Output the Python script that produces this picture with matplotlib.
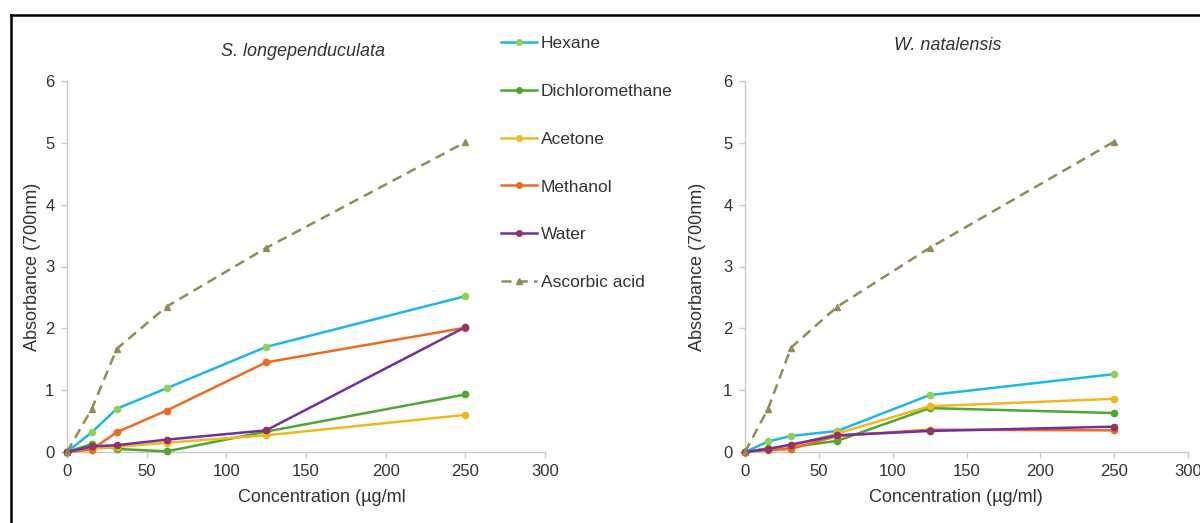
import matplotlib
matplotlib.use("Agg")
import matplotlib.pyplot as plt
from matplotlib.lines import Line2D

plt.rcParams['font.family'] = ['Liberation Sans', 'DejaVu Sans']

conc = [0, 15.6, 31.25, 62.5, 125, 250]
series_names = ["Hexane", "Dichloromethane", "Acetone", "Methanol", "Water", "Ascorbic acid"]

sl_hexane = [0, 0.32, 0.70, 1.03, 1.70, 2.52]
sl_dcm = [0, 0.13, 0.05, 0.01, 0.33, 0.93]
sl_acetone = [0, 0.05, 0.08, 0.15, 0.27, 0.60]
sl_methanol = [0, 0.04, 0.32, 0.67, 1.45, 2.01]
sl_water = [0, 0.09, 0.11, 0.20, 0.35, 2.02]
sl_ascorbic = [0, 0.70, 1.67, 2.35, 3.30, 5.01]

wn_hexane = [0, 0.17, 0.26, 0.34, 0.92, 1.26]
wn_dcm = [0, 0.06, 0.08, 0.18, 0.71, 0.63]
wn_acetone = [0, 0.05, 0.10, 0.30, 0.74, 0.86]
wn_methanol = [0, 0.03, 0.05, 0.26, 0.36, 0.35]
wn_water = [0, 0.05, 0.12, 0.27, 0.34, 0.41]
wn_ascorbic = [0, 0.70, 1.69, 2.35, 3.30, 5.02]

x_ticks = [0, 50, 100, 150, 200, 250, 300]
y_ticks = [0, 1, 2, 3, 4, 5, 6]

line_colors = ["#1AB7EA", "#4EA72E", "#F1B81C", "#EE6A22", "#7030A0", "#948A54"]
marker_colors = ["#92D050", "#4EA72E", "#F1B81C", "#EE6A22", "#953264", "#948A54"]
markers = ["o", "o", "o", "o", "o", "^"]
styles = ["-", "-", "-", "-", "-", (0, (4, 2.5))]

fig = plt.figure(figsize=(12, 5.23), dpi=100)

# figure border (top and left)
fig.add_artist(Line2D([10.5/1200, 10.5/1200], [0, 1 - 14.5/523], transform=fig.transFigure,
                      color="black", lw=1.8, solid_capstyle="projecting"))
fig.add_artist(Line2D([10.5/1200, 1.0], [1 - 14.5/523, 1 - 14.5/523], transform=fig.transFigure,
                      color="black", lw=1.8, solid_capstyle="projecting"))

ax1 = fig.add_axes([67/1200, 1 - 452/523, 478/1200, 371/523])
ax2 = fig.add_axes([745/1200, 1 - 452/523, 443/1200, 371/523])

def draw(ax, data, xlabel, ylab_x, xlab_x):
    handles = []
    for i, ys in enumerate(data):
        h, = ax.plot(conc, ys, color=line_colors[i], ls=styles[i], lw=1.8,
                     marker=markers[i], ms=4.5, mfc=marker_colors[i], mec=marker_colors[i],
                     label=series_names[i], clip_on=False, zorder=3)
        handles.append(h)
    ax.set_xlim(0, 300)
    ax.set_ylim(0, 6)
    ax.set_xticks(x_ticks)
    ax.set_yticks(y_ticks)
    for s in ["top", "right"]:
        ax.spines[s].set_visible(False)
    for s in ["left", "bottom"]:
        ax.spines[s].set_color("#C8C8C8")
        ax.spines[s].set_linewidth(1.0)
    ax.tick_params(axis="both", colors="#C8C8C8", labelcolor="#333333", labelsize=12,
                   length=4, width=1.0)
    ax.tick_params(axis="x", pad=5)
    ax.tick_params(axis="y", pad=5)
    ax.set_xlabel(xlabel, fontsize=13, color="#333333")
    ax.set_ylabel("Absorbance (700nm)", fontsize=13, color="#333333")
    ax.yaxis.set_label_coords(ylab_x, 0.5)
    ax.xaxis.set_label_coords(xlab_x, -45/371)
    ax.xaxis.label.set_va("center")
    ax.yaxis.label.set_va("center")
    return handles

draw(ax1, [sl_hexane, sl_dcm, sl_acetone, sl_methanol, sl_water, sl_ascorbic],
     "Concentration (µg/ml", (33 - 67)/478, (322 - 67)/478)
draw(ax2, [wn_hexane, wn_dcm, wn_acetone, wn_methanol, wn_water, wn_ascorbic],
     "Concentration (µg/ml)", (697 - 745)/443, (956 - 745)/443)

fig.text(303/1200, 1 - 51/523, "S. longependuculata", style="italic", fontsize=13,
         color="#333333", ha="center", va="center")
fig.text(948/1200, 1 - 45/523, "W. natalensis", style="italic", fontsize=13,
         color="#333333", ha="center", va="center")

leg_handles = []
for i in range(6):
    leg_handles.append(Line2D([0], [0], color=line_colors[i], ls=styles[i], lw=1.8,
                              marker=markers[i], ms=4, mfc=marker_colors[i], mec=marker_colors[i]))
fig.legend(leg_handles, series_names, loc="upper left", bbox_to_anchor=(501/1200, 1 - 36/523),
           frameon=False, fontsize=12.5, labelspacing=1.88, handlelength=2.1,
           handletextpad=0.2, borderaxespad=0, borderpad=0, labelcolor="#333333")

fig.savefig("out.png", dpi=100)
